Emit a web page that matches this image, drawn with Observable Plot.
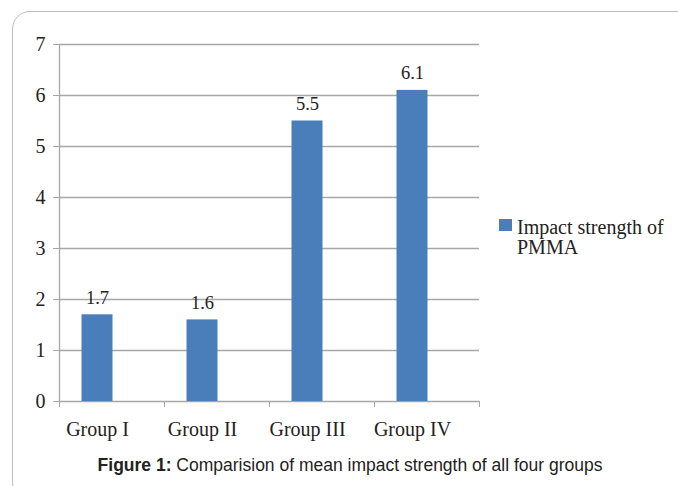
<!DOCTYPE html>
<html>
<head>
<meta charset="utf-8">
<script src="https://cdn.jsdelivr.net/npm/d3@7"></script>
<script src="https://cdn.jsdelivr.net/npm/@observablehq/plot@0.6"></script>
<style>
  html, body { margin: 0; padding: 0; background: #fff; }
  #wrap { position: relative; width: 678px; height: 486px; overflow: hidden; }
  #border { position: absolute; left: 12px; top: 11px; width: 700px; height: 490px;
            border: 1.3px solid #bdbdbd; border-radius: 18px; box-sizing: border-box; }
  #chart { position: absolute; left: 0; top: 0; }
  #legend { position: absolute; left: 499px; top: 217px; font-family: "Liberation Serif", serif;
            font-size: 20px; line-height: 20px; color: #222; }
  #legend .sw { position: absolute; left: 0; top: 2px; width: 13px; height: 12px; background: #4a7ebb; }
  #legend .tx { position: absolute; left: 18px; top: 0; white-space: nowrap; }
  #caption { position: absolute; left: 0; width: 700px; top: 455px; text-align: center;
             font-family: "Liberation Sans", Arial, sans-serif; font-size: 17.5px; color: #222; }
</style>
</head>
<body>
<div id="wrap">
  <div id="border"></div>
  <div id="chart"></div>
  <div id="legend"><div class="sw"></div><div class="tx">Impact strength of<br>PMMA</div></div>
  <div id="caption"><b>Figure 1:</b> Comparision of mean impact strength of all four groups</div>
</div>
<script>
const groups = ["Group I", "Group II", "Group III", "Group IV"];
const values = [1.7, 1.6, 5.5, 6.1];
const yTicks = [0, 1, 2, 3, 4, 5, 6, 7];
const seriesName = "Impact strength of PMMA";

const data = groups.map((g, i) => ({group: g, value: values[i]}));
const serif = "Liberation Serif, serif";
const shift = -14.5;

const chart = Plot.plot({
  width: 678,
  height: 450,
  marginTop: 44,
  marginBottom: 49,
  marginLeft: 59,
  marginRight: 199,
  style: {fontFamily: serif, fontSize: "20px", color: "#222", background: "transparent"},
  x: {domain: groups, paddingInner: 0.705, paddingOuter: 0.3525, axis: null},
  y: {domain: [0, 7], axis: null},
  marks: [
    Plot.ruleY(yTicks, {stroke: "#a6a6a6", strokeWidth: 1.3}),
    Plot.ruleX([0], {x: () => groups[0], dx: -52.5, y1: 0, y2: 7, stroke: "#a6a6a6", strokeWidth: 1.3}),
    Plot.axisY({ticks: yTicks, tickSize: 6, tickPadding: 8, label: null, stroke: "#a6a6a6", fontSize: 20, fontFamily: serif, fill: "#222", tickFormat: d3.format("d")}),
    Plot.axisX({tickSize: 6, text: null, label: null, dx: -52.5, stroke: "#a6a6a6"}),
    Plot.axisX({ticks: [groups[groups.length - 1]], tickSize: 6, text: null, label: null, dx: 52.5, stroke: "#a6a6a6"}),
    Plot.axisX({tickSize: 0, tickPadding: 20, label: null, dx: shift, fontSize: 20, fontFamily: serif, fill: "#222"}),
    Plot.barY(data, {x: "group", y: "value", fill: "#4a7ebb", dx: shift}),
    Plot.text(data, {x: "group", y: "value", text: d => d3.format(".1f")(d.value), dx: shift, dy: -11,
                     lineAnchor: "bottom", fontSize: 18.5, fontFamily: serif, fill: "#222"})
  ]
});
document.getElementById("chart").appendChild(chart);
</script>
</body>
</html>
